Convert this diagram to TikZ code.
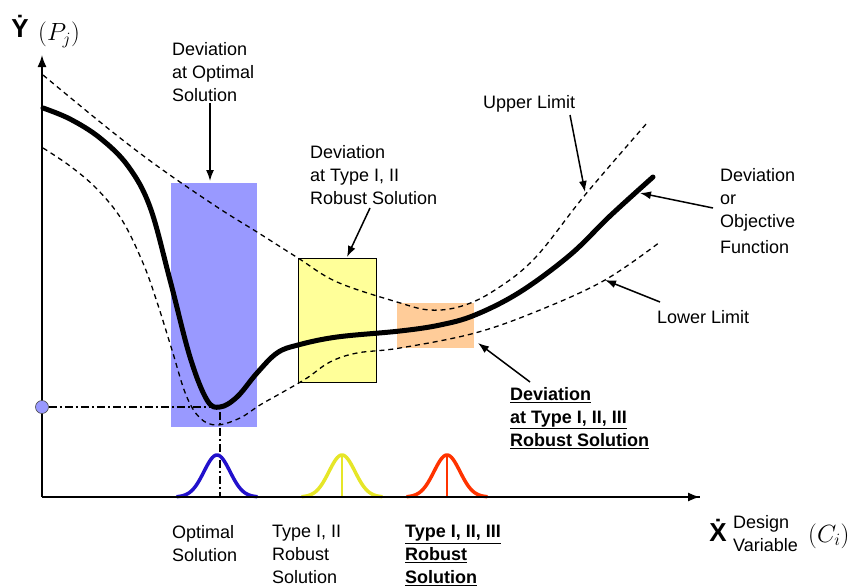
\documentclass[tikz,border=0pt]{standalone}
\usepackage{fontspec}
\setmainfont{Liberation Sans}
\usetikzlibrary{arrows.meta}
\definecolor{boxblue}{RGB}{153,153,255}
\definecolor{boxyellow}{RGB}{255,255,153}
\definecolor{boxorange}{RGB}{255,204,153}
\definecolor{bellblue}{RGB}{34,17,204}
\definecolor{bellyellow}{RGB}{230,230,40}
\definecolor{bellred}{RGB}{255,51,0}
\tikzset{
  lbl/.style={anchor=north west, inner sep=0pt, align=left, font=\fontsize{18}{23}\selectfont},
  blbl/.style={lbl, font=\fontsize{18}{23}\selectfont\bfseries},
  pointer/.style={-{Latex[length=11pt,width=8pt]}, line width=1.5pt},
  limit/.style={dashed, dash pattern=on 5pt off 4pt, line width=1.3pt},
  axisline/.style={line width=1.6pt, -{Latex[length=12pt,width=9pt]}},
  bell/.style={line width=3.5pt, line cap=round},
  mathlbl/.style={anchor=west, inner sep=0pt, font=\fontsize{25}{25}\selectfont},
  axletter/.style={anchor=center, inner sep=0pt, font=\fontsize{26}{26}\selectfont\bfseries},
}
\begin{document}
\begin{tikzpicture}[x=1pt,y=-1pt]
\useasboundingbox (0,0) rectangle (853,586);
% boxes
\fill[boxblue] (171,183) rectangle (257,427);
\draw[fill=boxyellow, line width=0.9pt] (298,258) rectangle (376,382);
\fill[boxorange] (397,303) rectangle (474,348);
% axes
\coordinate (O) at (42,497);
\coordinate (ytop) at (42,55);
\coordinate (xend) at (700,497);
\draw[axisline] (O) -- (ytop);
\draw[axisline] (O) -- (xend);
% dash-dot guide
\node[circle, fill=boxblue, draw=black!70, line width=0.6pt, inner sep=0pt, minimum size=13pt] (dot) at (42,407) {};
\coordinate (minpt) at (220,407);
\coordinate (minbase) at (220,497);
\draw[line width=1.2pt, dash pattern=on 8pt off 3pt on 2pt off 3pt] (dot.east) -- (minpt) -- (minbase);
% limits
\draw[limit] plot[smooth, tension=0.6] coordinates {(43,75) (110,130) (160,168) (217,207) (257,232) (298,258) (337,282) (397,302) (430,310) (462,306) (495,290) (535,258) (585,195) (647,123)};
\draw[limit] plot[smooth, tension=0.6] coordinates {(43,148) (70,166) (97,189) (122,220) (143,263) (157,302) (172,350) (186,395) (200,418) (217,425) (240,418) (260,405) (283,392) (307,378) (330,362) (357,353) (400,348) (475,333) (540,310) (605,280) (660,242)};
% main curve
\draw[line width=5pt, line cap=round] plot[smooth, tension=0.6] coordinates {(43,108) (70,119) (100,138) (128,166) (150,207) (170,280) (190,357) (207,400) (220,407) (237,397) (257,373) (277,353) (298,345) (337,337) (400,331) (440,325) (475,315) (520,292) (570,255) (610,216) (653,177)};
% bells
\draw[bell, bellblue, domain=-40:40, samples=60] plot ({217+\x},{497-42*exp(-0.5*(\x/13)*(\x/13))});
\draw[bell, bellyellow, domain=-40:40, samples=60] plot ({342+\x},{497-42*exp(-0.5*(\x/13)*(\x/13))});
\draw[bell, bellred, domain=-40:40, samples=60] plot ({447+\x},{497-42*exp(-0.5*(\x/13)*(\x/13))});
\coordinate (yb1) at (342,456); \coordinate (yb2) at (342,497);
\coordinate (rb1) at (447,456); \coordinate (rb2) at (447,497);
\draw[bellyellow, line width=1.5pt] (yb1) -- (yb2);
\draw[bellred, line width=1.5pt] (rb1) -- (rb2);
\draw[line width=1.2pt] (O) -- (xend);
% axis labels
\node[axletter] (ylab) at (20,26) {\.{Y}};
\node[mathlbl] (ypar) at (38,35) {$(P_j)$};
\node[axletter] (xlab) at (718,530) {\.{X}};
\node[lbl] (xtxt) at (733,515) {Design\\Variable};
\node[mathlbl] (xpar) at (808,536) {$(C_i)$};
% annotation labels
\node[lbl] (optdev) at (172,42) {Deviation\\at Optimal\\Solution};
\node[lbl] (t2dev) at (310,145) {Deviation\\at Type I, II\\Robust Solution};
\node[lbl] (upper) at (483,95) {Upper Limit};
\node[lbl] (obj) at (720,168) {Deviation\\or\\Objective\\[3pt]Function};
\node[lbl] (lower) at (657,310) {Lower Limit};
\node[blbl] (t3dev) at (510,387) {\underline{Deviation}\\\underline{at Type I, II, III}\\\underline{Robust Solution}};
\node[lbl] (optsol) at (172,525) {Optimal\\Solution};
\node[lbl] (t2sol) at (272,525) {Type I, II\\Robust\\Solution};
\node[blbl] (t3sol) at (405,525) {\underline{Type I, II, III}\\\underline{Robust}\\\underline{Solution}};
% pointers
\coordinate (p1s) at (210,103); \coordinate (p1e) at (210,181);
\coordinate (p2s) at (370,208); \coordinate (p2e) at (347,257);
\coordinate (p3s) at (570,115); \coordinate (p3e) at (585,192);
\coordinate (p4s) at (713,208); \coordinate (p4e) at (640,193);
\coordinate (p5s) at (660,302); \coordinate (p5e) at (605,280);
\coordinate (p6s) at (530,382); \coordinate (p6e) at (478,343);
\draw[pointer] (p1s) -- (p1e);
\draw[pointer] (p2s) -- (p2e);
\draw[pointer] (p3s) -- (p3e);
\draw[pointer] (p4s) -- (p4e);
\draw[pointer] (p5s) -- (p5e);
\draw[pointer] (p6s) -- (p6e);
\end{tikzpicture}
\end{document}
